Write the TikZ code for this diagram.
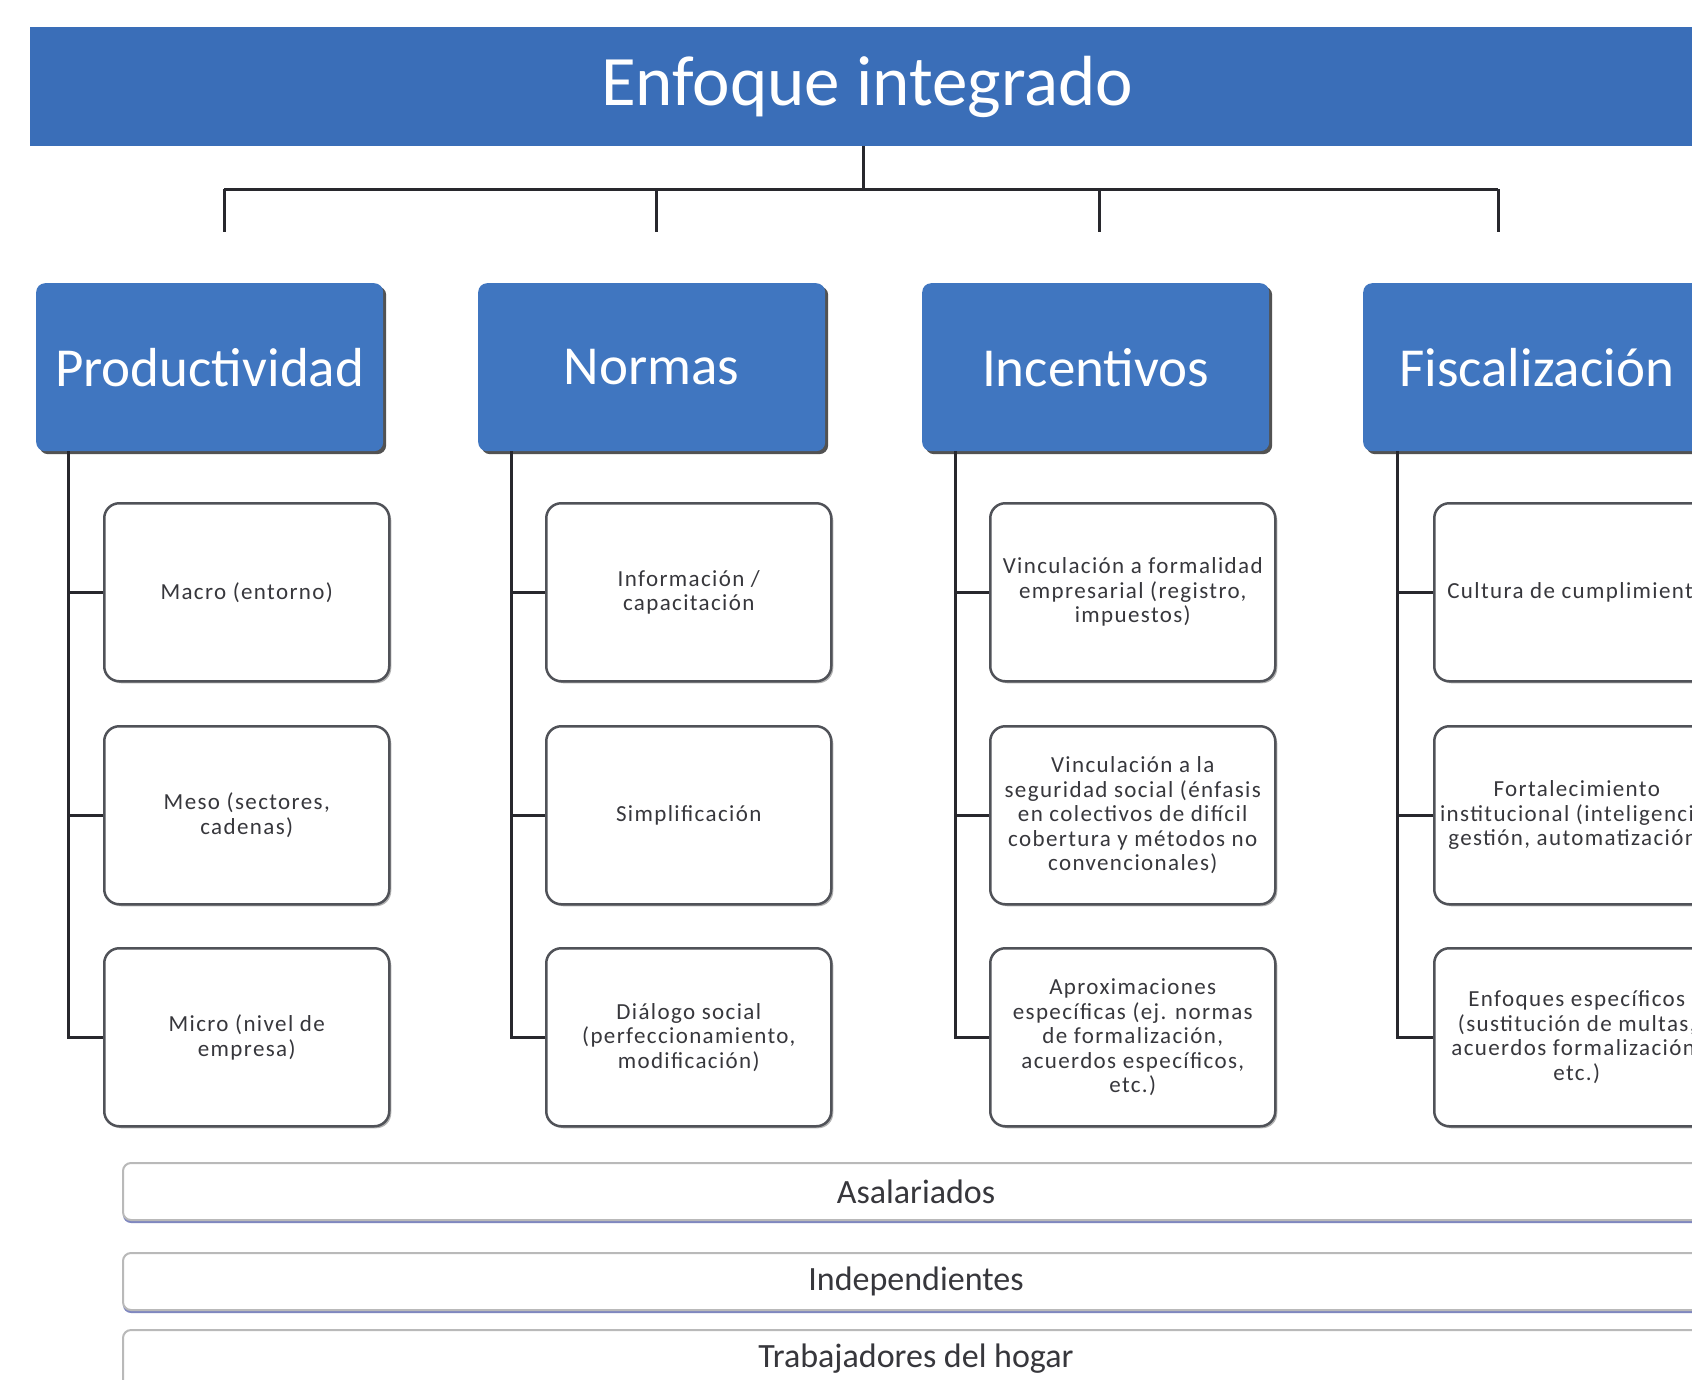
\documentclass[tikz,border=0pt]{standalone}
\usepackage{fontspec}
\setmainfont{Carlito}
\usetikzlibrary{shadows}
\definecolor{titleblue}{RGB}{58,110,184}
\definecolor{catblue}{RGB}{64,118,192}
\definecolor{boxline}{RGB}{80,82,88}
\definecolor{txtgray}{RGB}{55,55,60}
\definecolor{connc}{RGB}{40,40,45}
\definecolor{barshadow}{RGB}{95,105,175}
\newcommand\cfont{\fontsize{23}{24.5}\selectfont\addfontfeatures{LetterSpace=6}}
\begin{document}
\begin{tikzpicture}[x=1pt,y=-1pt,
  titlebar/.style={fill=titleblue, text=white, minimum width=1674pt, minimum height=119pt, inner sep=0pt, anchor=north west, font=\fontsize{71}{75}\selectfont},
  catbox/.style={fill=catblue, text=white, rounded corners=9pt, minimum width=347pt, minimum height=168pt, inner sep=0pt, anchor=north west, font=\fontsize{55}{60}\selectfont,
    drop shadow={shadow xshift=3pt, shadow yshift=-3pt, fill=black!75, opacity=0.9}},
  child/.style={draw=boxline, line width=2.5pt, fill=white, rounded corners=15pt, minimum width=285pt, minimum height=178pt, inner sep=0pt, align=center, text=txtgray, font=\cfont, anchor=north west,
    drop shadow={shadow xshift=2pt, shadow yshift=-2pt, fill=black, opacity=0.3}},
  bar/.style={draw=gray!55, line width=2pt, fill=white, rounded corners=8pt, minimum width=1586pt, minimum height=57pt, inner sep=0pt, anchor=north west, text=txtgray, font=\fontsize{34}{38}\selectfont,
    drop shadow={shadow xshift=0pt, shadow yshift=-3pt, fill=barshadow, opacity=0.8}},
  conn/.style={draw=connc, line width=3pt}]
\useasboundingbox (0,0) rectangle (1692,1379);
\fill[white] (0,0) rectangle (1692,1379);

% title
\node[titlebar] (title) at (30,27) {Enfoque integrado};

% category boxes
\node[catbox] (prod) at (36,283) {Productividad};
\node[catbox] (norm) at (478,283) {Normas};
\node[catbox] (ince) at (922,283) {Incentivos};
\node[catbox] (fisc) at (1363,283) {Fiscalización};

% top connectors
\coordinate (hub) at (863,189);
\coordinate (dA) at (224,189);
\coordinate (dB) at (656,189);
\coordinate (dC) at (1099,189);
\coordinate (dD) at (1498,189);
\coordinate (eA) at (224,232);
\coordinate (eB) at (656,232);
\coordinate (eC) at (1099,232);
\coordinate (eD) at (1498,232);
\draw[conn] (title.south -| hub) -- (hub);
\draw[conn] (dA) -- (dD);
\draw[conn] (dA) -- (eA);
\draw[conn] (dB) -- (eB);
\draw[conn] (dC) -- (eC);
\draw[conn] (dD) -- (eD);

% child boxes
\node[child] (p1) at (103,502) {Macro (entorno)};
\node[child] (p2) at (103,725) {Meso (sectores,\\ cadenas)};
\node[child] (p3) at (103,947) {Micro (nivel de\\ empresa)};

\node[child] (n1) at (545,502) {Información /\\ capacitación};
\node[child] (n2) at (545,725) {Simplificación};
\node[child] (n3) at (545,947) {Diálogo social\\ (perfeccionamiento,\\ modificación)};

\node[child] (i1) at (989,502) {Vinculación a formalidad\\ empresarial (registro,\\ impuestos)};
\node[child] (i2) at (989,725) {Vinculación a la\\ seguridad social (énfasis\\ en colectivos de difícil\\ cobertura y métodos no\\ convencionales)};
\node[child] (i3) at (989,947) {Aproximaciones\\ específicas (ej. normas\\ de formalización,\\ acuerdos específicos,\\ etc.)};

\node[child] (f1) at (1433,502) {Cultura de cumplimiento};
\node[child] (f2) at (1433,725) {Fortalecimiento\\ institucional (inteligencia,\\ gestión, automatización)};
\node[child] (f3) at (1433,947) {Enfoques específicos\\ (sustitución de multas,\\ acuerdos formalización,\\ etc.)};

% tree connectors
\coordinate (vp) at (68,0);
\coordinate (vn) at (511,0);
\coordinate (vi) at (955,0);
\coordinate (vf) at (1397,0);
\foreach \c/\v/\a/\b/\d in {prod/vp/p1/p2/p3, norm/vn/n1/n2/n3, ince/vi/i1/i2/i3, fisc/vf/f1/f2/f3}{
  \draw[conn] (\c.south -| \v) |- (\d.west);
  \draw[conn] (\a.west -| \v) -- (\a.west);
  \draw[conn] (\b.west -| \v) -- (\b.west);
}

% bottom bars
\node[bar] (asal) at (122,1162) {Asalariados};
\node[bar] (inde) at (122,1252) {Independientes};
\node[bar] (hoga) at (122,1329) {Trabajadores del hogar};
\end{tikzpicture}
\end{document}
